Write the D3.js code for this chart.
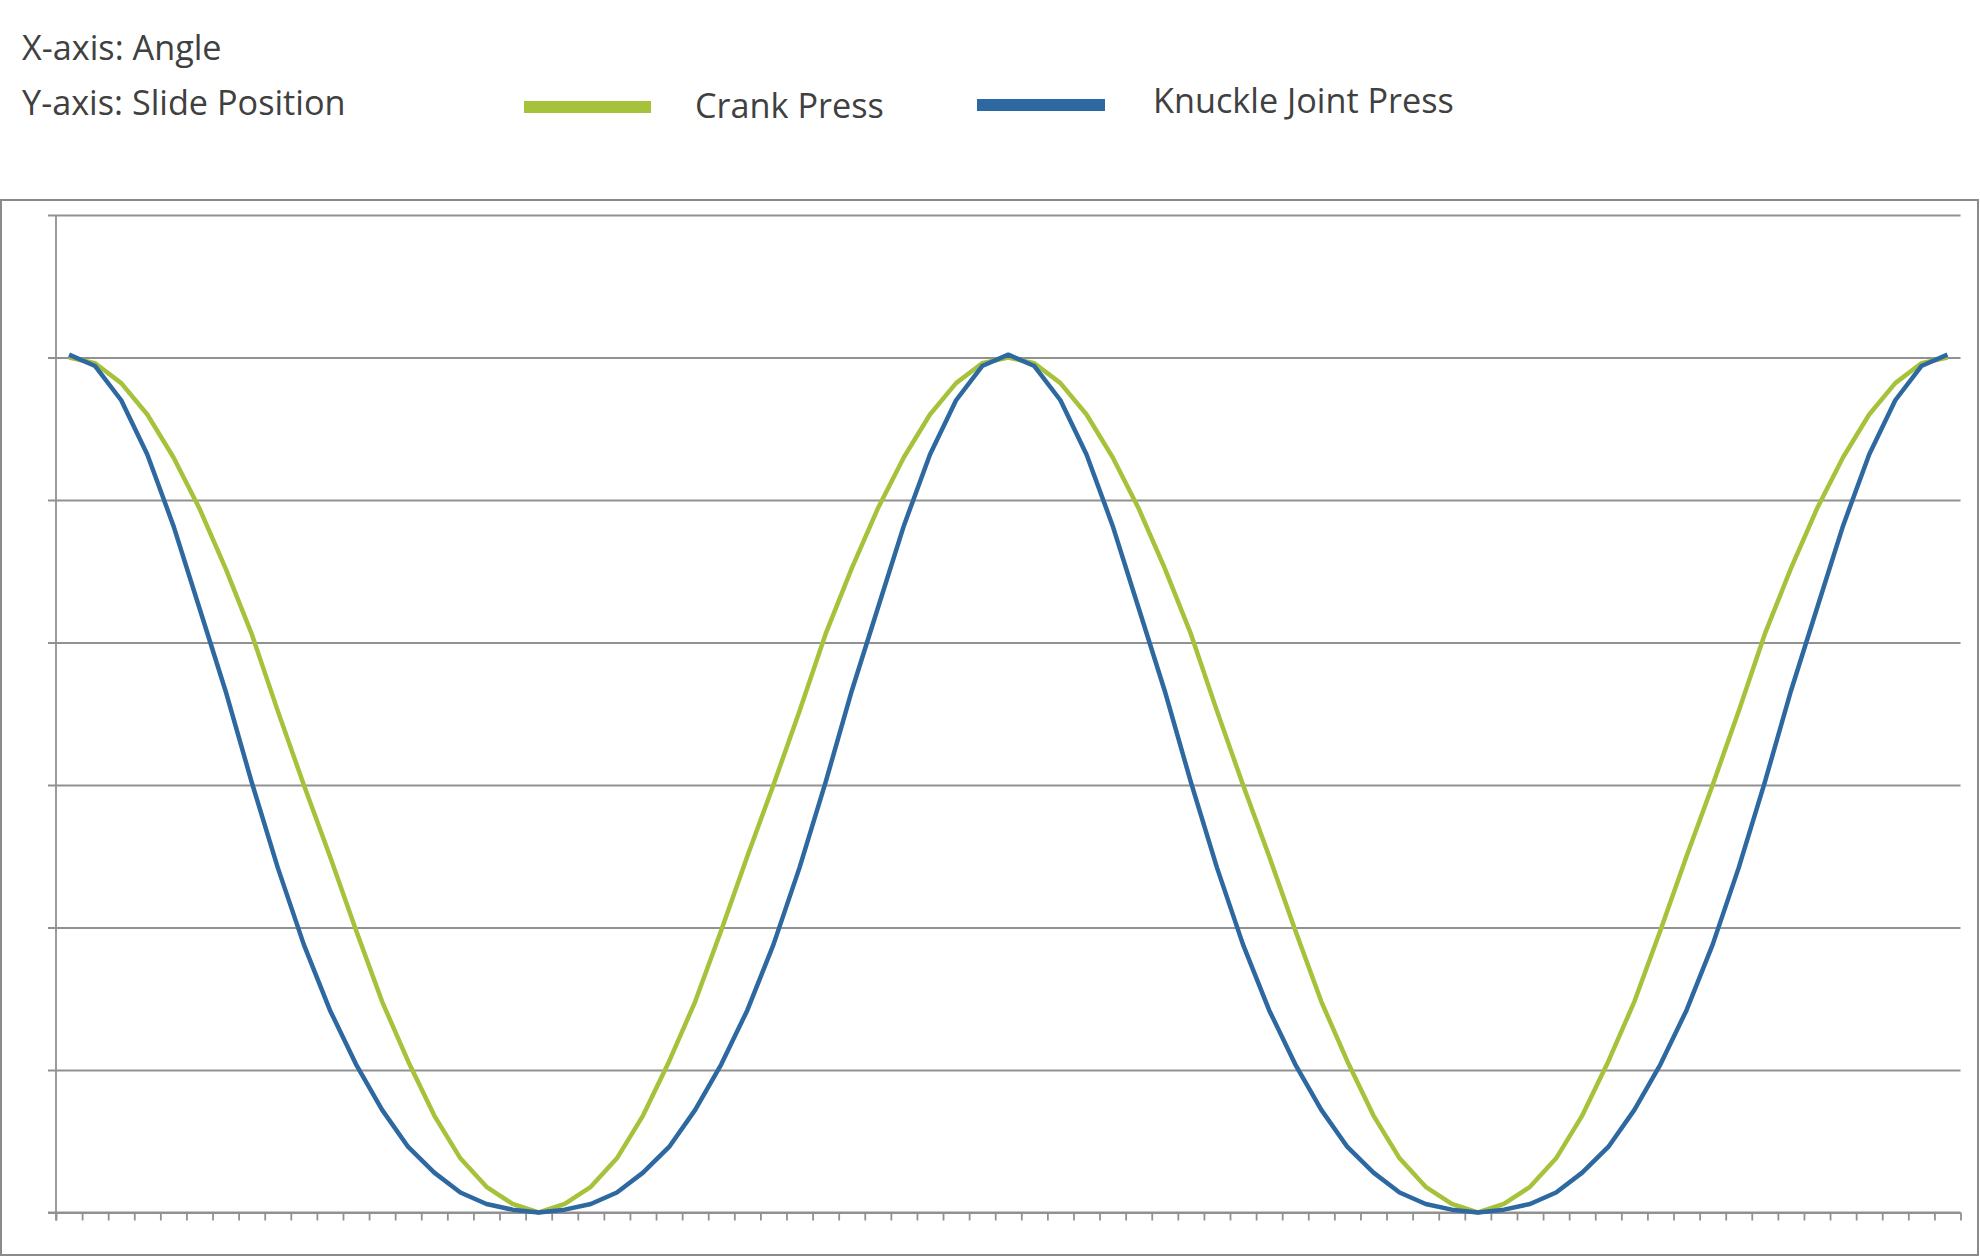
<!DOCTYPE html>
<html>
<head>
<meta charset="utf-8">
<script src="https://cdn.jsdelivr.net/npm/d3@7"></script>
<style>
  html, body { margin: 0; padding: 0; background: #fff; }
  text { font-family: "Open Sans", "Noto Sans", sans-serif; fill: #404040; }
</style>
</head>
<body>
<div id="chart"></div>
<script>
// crank angle in degrees, two full turns, 10 degree steps
var angles = d3.range(0, 721, 10);

// slide position (axis 0..350, gridlines every 50)
var crankPress = [
  300, 298, 291, 280, 265, 247, 226, 203, 176, 150, 125, 99, 74, 53, 34, 19, 9, 3, 0,
  3, 9, 19, 34, 53, 74, 99, 125, 150, 176, 203, 226, 247, 265, 280, 291, 298, 300,
  298, 291, 280, 265, 247, 226, 203, 176, 150, 125, 99, 74, 53, 34, 19, 9, 3, 0,
  3, 9, 19, 34, 53, 74, 99, 125, 150, 176, 203, 226, 247, 265, 280, 291, 298, 300
];
var knucklePress = [
  301, 297, 285, 266, 241, 212, 183, 151, 121, 94, 71, 52, 36, 23, 14, 7, 3, 1, 0,
  1, 3, 7, 14, 23, 36, 52, 71, 94, 121, 151, 183, 212, 241, 266, 285, 297, 301,
  297, 285, 266, 241, 212, 183, 151, 121, 94, 71, 52, 36, 23, 14, 7, 3, 1, 0,
  1, 3, 7, 14, 23, 36, 52, 71, 94, 121, 151, 183, 212, 241, 266, 285, 297, 301
];
var yTicks = [0, 50, 100, 150, 200, 250, 300, 350];

var seriesNames = ["Crank Press", "Knuckle Joint Press"];
var seriesColors = ["#a6c23b", "#2e68a1"];
var axisLabels = ["X-axis: Angle", "Y-axis: Slide Position"];

var width = 1980, height = 1257;
// plot box (named so they don't clash with window.top)
var plotL = 56, plotR = 1960.5, plotT = 215, plotB = 1212.5;

var svg = d3.select("#chart").append("svg")
    .attr("width", width)
    .attr("height", height);

// outer chart frame
svg.append("rect")
  .attr("x", 1)
  .attr("y", 200)
  .attr("width", 1977)
  .attr("height", 1055)
  .attr("fill", "#fff")
  .attr("stroke", "#8a8a8a")
  .attr("stroke-width", 2);

var x = d3.scaleBand()
  .domain(angles)
  .range([plotL, plotR])
  .padding(0);

// index scale for the tick marks between categories
var xEdge = d3.scaleLinear()
  .domain([0, angles.length])
  .range([plotL, plotR]);

var y = d3.scaleLinear()
  .domain([0, 350])
  .range([plotB, plotT]);

// gridlines + y ticks
var yAxis = svg.append("g")
  .attr("transform", "translate(" + plotL + ",0)")
  .call(d3.axisLeft(y)
    .tickValues(yTicks)
    .tickSize(-(plotR - plotL))
    .tickSizeOuter(0)
    .tickFormat(""));
yAxis.selectAll(".tick line")
  .attr("x1", -8)
  .attr("stroke", "#919191")
  .attr("stroke-width", 1.8);
yAxis.select(".domain").remove();

svg.append("line")
  .attr("x1", plotL).attr("x2", plotL)
  .attr("y1", plotT).attr("y2", plotB + 8)
  .attr("stroke", "#919191")
  .attr("stroke-width", 1.8);

var xAxis = svg.append("g")
  .attr("transform", "translate(0," + plotB + ")")
  .call(d3.axisBottom(xEdge)
    .tickValues(d3.range(angles.length + 1))
    .tickSize(8)
    .tickSizeOuter(0)
    .tickFormat(""));
xAxis.selectAll(".tick line")
  .attr("stroke", "#919191")
  .attr("stroke-width", 1.8);
xAxis.select(".domain")
  .attr("stroke", "#919191")
  .attr("stroke-width", 1.8)
  .attr("d", "M" + (plotL - 8) + ",0H" + plotR);

var line = d3.line()
  .x(function(d, i) { return x(angles[i]) + x.bandwidth() / 2; })
  .y(function(d) { return y(d); });

[crankPress, knucklePress].forEach(function(vals, k) {
  svg.append("path")
    .datum(vals)
    .attr("fill", "none")
    .attr("stroke", seriesColors[k])
    .attr("stroke-width", 4.5)
    .attr("stroke-linejoin", "round")
    .attr("d", line);
});

// header texts
var labels = svg.append("g");
labels.append("text").attr("x", 22).attr("y", 60).text(axisLabels[0]);
labels.append("text").attr("x", 22).attr("y", 115).text(axisLabels[1]);

// legend
svg.append("rect")
  .attr("x", 524).attr("y", 101).attr("width", 127).attr("height", 12)
  .attr("fill", seriesColors[0]);
labels.append("text").attr("x", 695).attr("y", 118).text(seriesNames[0]);
svg.append("rect")
  .attr("x", 977).attr("y", 99).attr("width", 128).attr("height", 12)
  .attr("fill", seriesColors[1]);
var t4 = labels.append("text").attr("x", 1153).attr("y", 113).text(seriesNames[1]);

// size font so "Knuckle Joint Press" is as wide as in the picture
labels.selectAll("text").style("font-size", "100px");
var fs = 100 * 301 / t4.node().getComputedTextLength();
labels.selectAll("text").style("font-size", fs + "px");
</script>
</body>
</html>
